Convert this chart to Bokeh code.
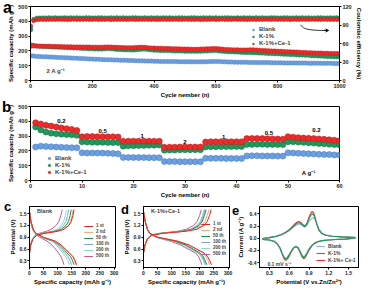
from bokeh.plotting import figure
from bokeh.models import (Range1d, LinearAxis, FixedTicker, Legend, LegendItem,
                          Label, Arrow, VeeHead, NumeralTickFormatter, Div)
from bokeh.layouts import column, row
from bokeh.embed import file_html
from bokeh.resources import INLINE
from bokeh.core.properties import value

FONT = "Liberation Sans"
BLUE, BLUE_D = "#6c9fdf", "#4b7fc4"
GREEN, GREEN_D = "#1f9a5b", "#14754a"
RED, RED_D = "#ee2b2b", "#c01d1d"

# ---------------- panel a data ----------------
cycles_a = [1] + list(range(10, 1001, 10))
cap_blank_a = [168, 165, 163, 162, 161, 160, 159, 158, 157, 156,
               155, 154, 153, 152, 151, 150, 149, 148, 147, 146,
               145, 144, 143, 142, 141, 140, 140, 139, 138, 137,
               137, 136, 135, 135, 134, 133, 133, 132, 132, 131,
               130, 130, 129, 129, 129, 128, 128, 128, 127, 127,
               127, 127, 126, 126, 126, 126, 127, 127, 128, 129,
               129, 128, 127, 126, 125, 125, 124, 124, 123, 123,
               123, 122, 122, 122, 121, 121, 121, 121, 120, 120,
               120, 120, 119, 119, 119, 119, 118, 118, 118, 118,
               117, 117, 117, 117, 116, 116, 116, 116, 115, 115,
               115]
cap_k1_a = [240, 236, 233, 231, 230, 229, 228, 227, 226, 225,
            224, 223, 222, 221, 220, 219, 218, 217, 216, 215,
            214, 213, 212, 212, 214, 216, 215, 212, 210, 209,
            208, 207, 207, 206, 207, 209, 211, 212, 210, 207,
            205, 204, 203, 203, 202, 202, 201, 200, 200, 199,
            198, 198, 198, 197, 197, 198, 199, 200, 201, 202,
            202, 200, 198, 196, 195, 194, 193, 192, 191, 190,
            190, 189, 188, 187, 186, 185, 184, 183, 182, 181,
            180, 179, 178, 177, 176, 175, 174, 173, 172, 171,
            170, 168, 167, 166, 165, 164, 163, 162, 161, 160,
            160]
cap_kce_a = [232, 234, 233, 232, 232, 231, 231, 230, 230, 229,
             229, 228, 228, 228, 227, 227, 227, 226, 226, 226,
             225, 225, 225, 225, 226, 227, 226, 225, 224, 223,
             223, 222, 222, 222, 223, 224, 225, 224, 222, 220,
             219, 218, 218, 217, 217, 216, 215, 215, 214, 213,
             212, 212, 211, 211, 211, 212, 213, 214, 215, 216,
             216, 214, 212, 210, 209, 208, 207, 207, 206, 206,
             206, 207, 208, 206, 204, 203, 202, 201, 200, 199,
             198, 197, 196, 195, 194, 193, 192, 191, 190, 189,
             188, 187, 186, 185, 185, 184, 184, 183, 183, 182,
             182]
ce_blank_a = [85.0, 97.5, 98.6, 98.9, 99.0, 99.1, 99.0, 99.2, 99.1, 99.0,
              99.2, 99.1, 99.0, 99.1, 99.2, 99.0, 99.1, 99.2, 99.1, 99.0,
              99.1, 99.2, 99.0, 99.1, 99.0, 99.2, 99.1, 99.0, 99.1, 99.2,
              99.0, 99.1, 99.2, 99.1, 99.0, 99.1, 99.2, 99.0, 99.1, 99.0,
              99.2, 99.1, 99.0, 99.1, 99.2, 99.0, 99.1, 99.2, 99.1, 99.0,
              99.1, 99.2, 99.0, 99.1, 99.0, 99.2, 99.1, 99.0, 99.1, 99.2,
              99.0, 99.1, 99.2, 99.1, 99.0, 99.1, 99.2, 99.0, 99.1, 99.0,
              99.2, 99.1, 99.0, 99.1, 99.2, 99.0, 99.1, 99.2, 99.1, 99.0,
              99.1, 99.2, 99.0, 99.1, 99.0, 99.2, 99.1, 99.0, 99.1, 99.2,
              99.0, 99.1, 99.2, 99.1, 99.0, 99.1, 99.2, 99.0, 99.1, 99.0,
              99.1]
ce_k1_a = [82.0, 99.5, 101.4, 101.7, 101.8, 101.9, 102.0, 101.9, 102.0, 101.8,
           101.9, 102.0, 101.8, 102.1, 101.9, 102.0, 101.8, 101.9, 102.1, 102.0,
           101.8, 101.9, 102.0, 102.1, 101.9, 101.8, 102.0, 101.9, 102.1, 101.9,
           102.0, 101.8, 101.9, 102.0, 102.1, 101.9, 101.8, 102.0, 101.9, 102.1,
           101.9, 102.0, 101.8, 102.1, 101.9, 102.0, 101.8, 101.9, 102.1, 102.0,
           101.8, 101.9, 102.0, 102.1, 101.9, 101.8, 102.0, 101.9, 102.1, 101.9,
           102.0, 101.8, 101.9, 102.0, 102.1, 101.9, 101.8, 102.0, 101.9, 102.1,
           101.9, 102.0, 101.8, 102.1, 101.9, 102.0, 101.8, 101.9, 102.1, 102.0,
           101.8, 101.9, 102.0, 102.1, 101.9, 101.8, 102.0, 101.9, 102.1, 101.9,
           102.0, 101.8, 101.9, 102.0, 102.1, 101.9, 101.8, 102.0, 101.9, 102.1,
           101.9]
ce_kce_a = [88.5, 97.0, 98.5, 98.8, 99.0, 98.9, 99.1, 98.8, 99.0, 99.2,
            98.9, 99.1, 98.7, 99.0, 99.3, 98.8, 99.1, 98.9, 99.2, 98.8,
            99.0, 99.3, 98.8, 99.1, 98.9, 99.2, 98.7, 99.0, 99.1, 98.9,
            99.2, 98.8, 99.0, 99.3, 98.9, 99.1, 98.8, 99.2, 99.0, 98.9,
            99.1, 98.7, 99.0, 99.3, 98.8, 99.1, 98.9, 99.2, 98.8, 99.0,
            99.3, 98.8, 99.1, 98.9, 99.2, 98.7, 99.0, 99.1, 98.9, 99.2,
            98.8, 99.0, 99.3, 98.9, 99.1, 98.8, 99.2, 99.0, 98.9, 99.1,
            98.7, 99.0, 99.3, 98.8, 99.1, 98.9, 99.2, 98.8, 99.0, 99.3,
            98.8, 99.1, 98.9, 99.2, 98.7, 99.0, 99.1, 98.9, 99.2, 98.8,
            99.0, 99.3, 98.9, 99.1, 98.8, 99.2, 99.0, 98.9, 99.1, 98.8,
            99.0]
series_names = ["Blank", "K-1%", "K-1%+Ce-1"]

# ---------------- panel b data ----------------
cycles_b = list(range(1, 61))
cap_blank_b = [226, 232, 230, 228, 226, 224, 223, 222, 221,
               187, 186, 186, 185, 185, 184, 183, 180,
               156, 156, 155, 155, 155, 154, 154, 154,
               128, 128, 128, 127, 127, 127, 127, 127,
               150, 150, 150, 150, 149, 149, 149, 149,
               166, 167, 167, 166, 166, 166, 165, 165,
               187, 186, 184, 182, 180, 179, 177, 176, 175, 173, 172]
cap_k1_b = [362, 342, 328, 320, 316, 313, 311, 309, 305,
            262, 260, 259, 258, 258, 257, 257, 256,
            232, 234, 235, 236, 237, 238, 239, 240,
            205, 206, 206, 207, 207, 208, 208, 208,
            227, 228, 228, 229, 229, 229, 230, 230,
            244, 244, 245, 245, 244, 244, 243, 243,
            262, 262, 260, 258, 255, 253, 250, 248, 245, 243, 240]
cap_kce_b = [390, 382, 373, 368, 362, 355, 350, 345, 338,
             295, 297, 297, 296, 296, 295, 295, 294,
             265, 266, 266, 266, 266, 266, 265, 265,
             224, 225, 225, 226, 226, 226, 226, 226,
             260, 262, 262, 262, 262, 262, 262, 261,
             283, 284, 284, 283, 282, 281, 280, 279,
             296, 292, 289, 287, 285, 283, 281, 278, 275, 272, 268]
rate_text = ["0.2", "0.5", "1", "2", "1", "0.5", "0.2", "A g\u207b\u00b9"]
rate_x = [6, 14, 21.7, 30, 37.5, 46.3, 55.5, 54]
rate_y = [405, 335, 303, 258, 293, 322, 340, 50]

# ---------------- panels c / d data ----------------
gcd_labels = ["1 st", "2 nd", "50 th", "100 th", "200 th", "500 th"]
gcd_colors = ["#e8231f", "#f6a878", "#1e8c4e", "#7ea6dc", "#86e0c0", "#c75a8e"]
charge_v = [0.50, 0.70, 0.85, 0.95, 1.00, 1.05, 1.10, 1.20, 1.30, 1.45, 1.60]
discharge_v = [1.55, 1.30, 1.10, 1.00, 0.90, 0.80, 0.70, 0.60, 0.50, 0.40, 0.30, 0.20]
c_charge = [
    [0, 4, 12, 25, 55, 100, 122, 140, 148, 154, 158],
    [0, 4, 12, 25, 54, 98, 120, 137, 145, 151, 155],
    [0, 4, 12, 24, 50, 92, 113, 130, 138, 144, 148],
    [0, 4, 11, 23, 46, 85, 105, 121, 129, 135, 139],
    [0, 4, 11, 22, 42, 78, 97, 113, 121, 127, 131],
    [0, 3, 10, 20, 35, 60, 77, 95, 104, 111, 116],
]
c_discharge = [
    [0, 5, 13, 22, 48, 92, 113, 127, 142, 155, 162, 167],
    [0, 5, 13, 22, 47, 90, 111, 125, 140, 153, 160, 165],
    [0, 5, 13, 22, 46, 87, 107, 120, 133, 146, 153, 158],
    [0, 5, 13, 21, 44, 83, 101, 113, 125, 137, 144, 149],
    [0, 5, 12, 21, 42, 78, 96, 107, 118, 129, 136, 142],
    [0, 4, 11, 19, 36, 62, 80, 92, 103, 112, 118, 122],
]
d_charge = [
    [0, 5, 14, 28, 70, 150, 188, 215, 226, 234, 240],
    [0, 5, 14, 28, 68, 145, 182, 207, 218, 226, 232],
    [0, 5, 14, 27, 65, 138, 173, 198, 208, 216, 222],
    [0, 5, 13, 27, 63, 134, 168, 194, 204, 212, 218],
    [0, 5, 13, 26, 62, 131, 165, 190, 201, 209, 215],
    [0, 5, 13, 25, 58, 120, 152, 178, 190, 199, 205],
]
d_discharge = [
    [0, 6, 14, 22, 50, 120, 162, 188, 215, 228, 235, 241],
    [0, 6, 14, 22, 50, 122, 163, 186, 210, 222, 229, 234],
    [0, 6, 14, 22, 48, 112, 152, 176, 200, 212, 219, 225],
    [0, 6, 14, 22, 47, 108, 147, 171, 196, 208, 215, 220],
    [0, 6, 14, 22, 46, 105, 144, 168, 193, 205, 212, 217],
    [0, 6, 13, 21, 43, 95, 132, 158, 185, 196, 202, 207],
]

# ---------------- panel e data ----------------
cv_anodic_v = [0.20, 0.30, 0.40, 0.48, 0.54, 0.60, 0.65, 0.69, 0.72, 0.75, 0.78, 0.81, 0.84,
               0.87, 0.90, 0.93, 0.95, 0.97, 0.99, 1.02, 1.05, 1.09, 1.15, 1.25, 1.40, 1.60]
cv_blank_an = [-0.005, 0.010, 0.030, 0.055, 0.085, 0.125, 0.170, 0.205, 0.225, 0.235, 0.220, 0.195, 0.185,
               0.215, 0.275, 0.315, 0.330, 0.330, 0.310, 0.240, 0.160, 0.095, 0.055, 0.035, 0.025, 0.015]
cv_k1_an = [-0.005, 0.010, 0.030, 0.058, 0.090, 0.130, 0.180, 0.220, 0.245, 0.255, 0.240, 0.205, 0.190,
            0.235, 0.320, 0.380, 0.400, 0.385, 0.330, 0.220, 0.130, 0.080, 0.050, 0.032, 0.022, 0.012]
cv_kce_an = [-0.005, 0.010, 0.032, 0.062, 0.095, 0.140, 0.195, 0.240, 0.265, 0.275, 0.255, 0.220, 0.200,
             0.250, 0.345, 0.415, 0.440, 0.420, 0.350, 0.230, 0.135, 0.082, 0.050, 0.032, 0.022, 0.012]
cv_cathodic_v = [1.60, 1.45, 1.30, 1.20, 1.10, 1.03, 0.98, 0.94, 0.90, 0.87, 0.84, 0.82, 0.80, 0.77, 0.74,
                 0.71, 0.68, 0.65, 0.62, 0.59, 0.56, 0.54, 0.52, 0.49, 0.46, 0.42, 0.37, 0.30, 0.20]
cv_blank_ca = [0.005, -0.015, -0.022, -0.028, -0.038, -0.055, -0.080, -0.115, -0.170, -0.230, -0.285, -0.300,
               -0.285, -0.220, -0.160, -0.135, -0.140, -0.175, -0.225, -0.280, -0.320, -0.325, -0.300,
               -0.230, -0.155, -0.090, -0.050, -0.030, -0.020]
cv_k1_ca = [0.005, -0.015, -0.022, -0.028, -0.040, -0.058, -0.085, -0.125, -0.185, -0.245, -0.300, -0.315,
            -0.300, -0.230, -0.165, -0.138, -0.145, -0.180, -0.235, -0.295, -0.335, -0.340, -0.315,
            -0.240, -0.160, -0.092, -0.050, -0.030, -0.020]
cv_kce_ca = [0.005, -0.015, -0.022, -0.028, -0.040, -0.060, -0.090, -0.130, -0.195, -0.260, -0.320, -0.335,
             -0.318, -0.245, -0.172, -0.140, -0.148, -0.190, -0.250, -0.315, -0.355, -0.360, -0.330,
             -0.250, -0.165, -0.095, -0.052, -0.030, -0.020]
cv_names = ["Blank", "K-1%", "K-1%+ Ce-1"]
cv_colors = ["#8fb6e0", "#1f9a5b", "#ee2b2b"]

panel_letters = ["a", "b", "c", "d", "e"]


def style_axis(ax, lab_size, axl_size):
    ax.major_label_text_font = FONT
    ax.major_label_text_font_size = lab_size
    ax.major_label_text_font_style = "bold"
    ax.major_label_text_color = "#222222"
    ax.axis_label_text_font = FONT
    ax.axis_label_text_font_size = axl_size
    ax.axis_label_text_font_style = "bold"
    ax.axis_label_text_color = "black"
    ax.major_tick_out = 2
    ax.major_tick_in = 0
    ax.minor_tick_out = 0
    ax.minor_tick_in = 0
    ax.major_label_standoff = 1
    ax.axis_label_standoff = 1
    ax.axis_line_color = "black"


def style(p, xt, yt, lab_size="5.5px", axl_size="6px"):
    p.xgrid.visible = False
    p.ygrid.visible = False
    p.outline_line_color = "black"
    p.outline_line_width = 1
    p.outline_line_alpha = 1
    p.background_fill_color = "white"
    p.border_fill_color = "white"
    p.xaxis[0].ticker = FixedTicker(ticks=xt)
    p.yaxis[0].ticker = FixedTicker(ticks=yt)
    for ax in p.xaxis + p.yaxis:
        style_axis(ax, lab_size, axl_size)


def legend(items, loc, size="6px", gw=6, gh=5, lh=5, spacing=1, margin=0, lw=20):
    return Legend(items=items, location=loc, margin=margin, padding=0, spacing=spacing,
                  glyph_width=gw, glyph_height=gh, label_height=lh, label_width=lw, label_standoff=3,
                  label_text_font=FONT, label_text_font_size=size, label_text_font_style="bold",
                  background_fill_alpha=0, border_line_alpha=0)


def letter_div(txt, left, top, size):
    return Div(text=txt, styles={"position": "absolute", "left": f"{left}px", "top": f"{top}px",
                                 "font-family": FONT, "font-weight": "bold", "font-size": size,
                                 "line-height": "1", "z-index": "10", "margin": "0", "padding": "0",
                                 "color": "black"})


# ================= panel a =================
pa = figure(width=364, height=100, x_range=Range1d(0, 1000), y_range=Range1d(0, 500),
            output_backend="svg", toolbar_location=None,
            min_border_left=30, min_border_right=23, min_border_top=6, min_border_bottom=18)
pa.extra_y_ranges = {"ce": Range1d(0, 120)}
pa.add_layout(LinearAxis(y_range_name="ce", axis_label="Coulombic efficiency (%)"), "right")
style(pa, [0, 200, 400, 600, 800, 1000], [0, 100, 200, 300, 400, 500])
pa.yaxis[1].ticker = FixedTicker(ticks=[0, 30, 60, 90, 120])
pa.xaxis.axis_label = "Cycle nember (n)"
pa.yaxis[0].axis_label = "Specific capacity (mAh g\u207b\u00b9)"

fills = [BLUE, GREEN, RED]
lines = [BLUE_D, GREEN_D, RED_D]
ce_sets = [ce_blank_a, ce_k1_a, ce_kce_a]
for ce, f, l in zip(ce_sets, fills, lines):
    pa.scatter(cycles_a, ce, y_range_name="ce", size=4, fill_color=f, line_color=l, line_width=0.4)
rend_a = []
for cap, f, l in zip([cap_blank_a, cap_k1_a, cap_kce_a], fills, lines):
    rend_a.append(pa.scatter(cycles_a, cap, size=4.5, fill_color=f, line_color=l, line_width=0.4))
pa.add_layout(legend([LegendItem(label=n, renderers=[r]) for n, r in zip(series_names, rend_a)],
                     "top_right", size="6px", gw=6, gh=5, lh=5, spacing=1, margin=20, lw=60))
pa.add_layout(Label(x=82, y=65, text="2 A g\u207b\u00b9", text_font=FONT, text_font_size="6px",
                    text_font_style="bold", text_align="center", text_baseline="middle"))
ARROW = dict(x0=875, y0=377, cx0=880, cy0=345, cx1=905, cy1=338, x1=962, y1=338)
pa.bezier(x0=[ARROW["x0"]], y0=[ARROW["y0"]], x1=[ARROW["x1"]], y1=[ARROW["y1"]],
          cx0=[ARROW["cx0"]], cy0=[ARROW["cy0"]], cx1=[ARROW["cx1"]], cy1=[ARROW["cy1"]],
          line_color="black", line_width=0.8)
pa.add_layout(Arrow(end=VeeHead(size=3, line_color="black", line_width=0.8), x_start=950, y_start=338.5,
                    x_end=965, y_end=338, line_width=0.8, line_color="black"))

# ================= panel b =================
pb = figure(width=364, height=100, x_range=Range1d(0, 60), y_range=Range1d(0, 500),
            output_backend="svg", toolbar_location=None,
            min_border_left=29, min_border_right=25, min_border_top=6, min_border_bottom=18)
style(pb, [0, 10, 20, 30, 40, 50, 60], [0, 100, 200, 300, 400, 500])
pb.xaxis.axis_label = "Cycle nember (n)"
pb.yaxis.axis_label = "Specific capacity (mAh g\u207b\u00b9)"
rend_b = []
for cap, f, l in zip([cap_blank_b, cap_k1_b, cap_kce_b], fills, lines):
    rend_b.append(pb.scatter(cycles_b, cap, size=6, fill_color=f, line_color=l, line_width=0.6))
pb.text(x=rate_x, y=rate_y, text=rate_text, text_font=value(FONT), text_font_size="6px",
        text_font_style="bold", text_align="center", text_baseline="middle", text_color="black")
pb.add_layout(legend([LegendItem(label=n, renderers=[r]) for n, r in zip(series_names, rend_b)],
                     "bottom_right", size="6px", gw=6, gh=6, lh=6, spacing=1, margin=5, lw=279))


# ================= panels c, d =================
def gcd(width, left, right, chg, dis, title, legloc):
    p = figure(width=width, height=87, x_range=Range1d(0, 305), y_range=Range1d(0.13, 1.68),
               output_backend="svg", toolbar_location=None,
               min_border_left=left, min_border_right=right, min_border_top=6, min_border_bottom=18)
    style(p, [0, 50, 100, 150, 200, 250, 300], [0.3, 0.6, 0.9, 1.2, 1.5], lab_size="5px", axl_size="6px")
    p.yaxis.formatter = NumeralTickFormatter(format="0.0")
    p.xaxis.axis_label = "Specific capacity (mAh g\u207b\u00b9)"
    p.yaxis.axis_label = "Potential (V)"
    rends = {}
    for i in reversed(range(6)):
        r1 = p.line(chg[i], charge_v, line_color=gcd_colors[i], line_width=1)
        r2 = p.line(dis[i], discharge_v, line_color=gcd_colors[i], line_width=1)
        rends[i] = [r1, r2]
    p.add_layout(legend([LegendItem(label=gcd_labels[i], renderers=rends[i]) for i in range(6)],
                        legloc, size="4.5px", gw=9, gh=4, lh=4, spacing=1))
    p.add_layout(Label(x=27, y=1.57, text=title, text_font=FONT, text_font_size="5.5px",
                       text_font_style="bold", text_align="left", text_baseline="middle"))
    return p


pc = gcd(120, 29, 5, c_charge, c_discharge, "Blank", (55, 9))
pd = gcd(114, 21, 5, d_charge, d_discharge, "K-1%+Ce-1", (58, 11))

# ================= panel e =================
pe = figure(width=130, height=87, x_range=Range1d(0.15, 1.65), y_range=Range1d(-0.48, 0.52),
            output_backend="svg", toolbar_location=None,
            min_border_left=24, min_border_right=6, min_border_top=6, min_border_bottom=18)
style(pe, [0.3, 0.6, 0.9, 1.2, 1.5], [-0.4, -0.2, 0.0, 0.2, 0.4], lab_size="5px", axl_size="6px")
pe.xaxis.formatter = NumeralTickFormatter(format="0.0")
pe.yaxis.formatter = NumeralTickFormatter(format="0.0")
pe.xaxis.axis_label = "Potential (V vs.Zn/Zn\u00b2\u207a)"
pe.yaxis.axis_label = "Current (A g\u207b\u00b9)"
cv_sets = [(cv_blank_an, cv_blank_ca), (cv_k1_an, cv_k1_ca), (cv_kce_an, cv_kce_ca)]
rend_e = {}
for i in [2, 0, 1]:
    an, ca = cv_sets[i]
    xs = cv_anodic_v + cv_cathodic_v + cv_anodic_v[:1]
    ys = an + ca + an[:1]
    rend_e[i] = pe.line(xs, ys, line_color=cv_colors[i], line_width=1.1)
pe.add_layout(legend([LegendItem(label=cv_names[i], renderers=[rend_e[i]]) for i in range(3)],
                     (57, 4), size="5px", gw=9, gh=4, lh=4, spacing=1))
pe.add_layout(Label(x=0.27, y=-0.42, text="0.1 mV s\u207b\u00b9", text_font=FONT, text_font_size="5px",
                    text_font_style="bold", text_align="left", text_baseline="middle"))

# panel letters (overlaid, positions in px from the layout's top-left)
LETTER_POS = [(3, 0, "16px"), (2, 99, "15px"), (4, 200, "13px"), (121, 203, "13px"), (232, 204, "13px")]
letters = [letter_div(t, x, y, s) for t, (x, y, s) in zip(panel_letters, LETTER_POS)]

layout = column(*letters, pa, pb, row(pc, pd, pe), styles={"position": "relative"})
open("out.html", "w").write(file_html(layout, INLINE))
